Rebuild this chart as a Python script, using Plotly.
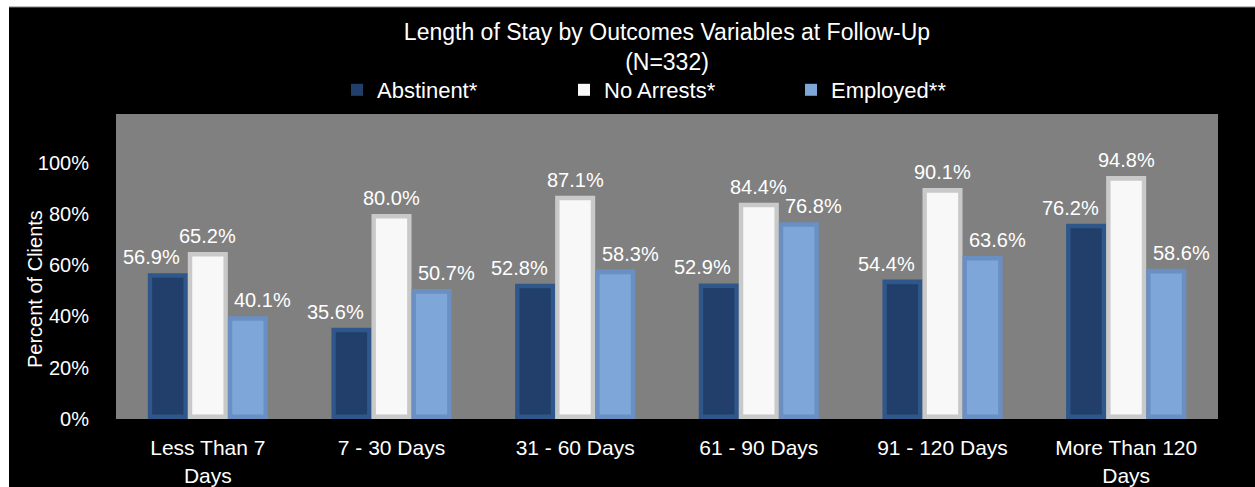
import plotly.graph_objects as go

# Length-of-stay groups and outcome rates at follow-up (percent of clients)
categories = ["Less Than 7<br>Days", "7 - 30 Days", "31 - 60 Days",
              "61 - 90 Days", "91 - 120 Days", "More Than 120<br>Days"]
abstinent = [56.9, 35.6, 52.8, 52.9, 54.4, 76.2]
no_arrests = [65.2, 80.0, 87.1, 84.4, 90.1, 94.8]
employed = [40.1, 50.7, 58.3, 76.8, 63.6, 58.6]

series_names = ["Abstinent*", "No Arrests*", "Employed**"]
face_colors = ["#213F6A", "#F8F8F8", "#7EA6D9"]
edge_colors = ["#2F5789", "#C9C9C9", "#6A8FC2"]
label_shift = [-16, 0, 15]  # px nudge of value labels around each bar

FONT = "Liberation Sans, Arial, sans-serif"
W, H = 1255, 487
ML, MR, MT, MB = 116, 37, 114, 68

bar_w = 0.218
bar_off = [-0.327, -0.109, 0.109]
bevel_x = 0.024
bevel_y = 0.018

fig = go.Figure()
all_series = [abstinent, no_arrests, employed]

# outer bevel rim
for vals, name, edge, off in zip(all_series, series_names, edge_colors, bar_off):
    fig.add_trace(go.Bar(
        x=categories, y=[v / 100 for v in vals], name=name,
        width=bar_w, offset=off, marker=dict(color=edge, line=dict(width=0)),
        showlegend=False, hoverinfo="skip", legendgroup=name,
    ))

# bar faces
for vals, name, face, off in zip(all_series, series_names, face_colors, bar_off):
    fig.add_trace(go.Bar(
        x=categories, y=[v / 100 - 2 * bevel_y for v in vals],
        base=bevel_y, name=name, legendgroup=name,
        width=bar_w - 2 * bevel_x, offset=off + bevel_x,
        marker=dict(color=face, line=dict(width=0)),
        customdata=vals, hovertemplate="%{customdata:.1f}%<extra>" + name + "</extra>",
    ))

# value labels
px_per_cat = (W - ML - MR) / len(categories)
for vals, off, shift in zip(all_series, bar_off, label_shift):
    for cat, v in zip(categories, vals):
        fig.add_annotation(
            x=cat, y=v / 100, xref="x", yref="y",
            text=f"{v:.1f}%", showarrow=False,
            xshift=(off + bar_w / 2) * px_per_cat + shift,
            yanchor="bottom", yshift=3,
            font=dict(family=FONT, size=20, color="white"),
        )

pw = W - ML - MR
ph = H - MT - MB

# y-axis title
fig.add_annotation(
    text="Percent of Clients", textangle=-90, showarrow=False,
    xref="paper", yref="paper", x=0, y=(H - MB - 289) / ph,
    xshift=-81, xanchor="center", yanchor="middle",
    font=dict(family=FONT, size=20, color="white"),
)

# dark chart panel with a thin white frame on the top and left
fig.add_shape(type="rect", xref="paper", yref="paper", layer="below",
              x0=(9 - ML) / pw, x1=(W - ML + 10) / pw,
              y0=-(MB + 10) / ph, y1=(H - MB - 7) / ph,
              fillcolor="black", line=dict(width=0))
fig.add_shape(type="line", xref="paper", yref="paper", layer="below",
              x0=(9 - ML) / pw, x1=(W - ML + 10) / pw,
              y0=(H - MB - 7) / ph, y1=(H - MB - 7) / ph,
              line=dict(color="#7F7F7F", width=1))
fig.add_shape(type="rect", xref="paper", yref="paper", layer="below",
              x0=0, x1=1, y0=0, y1=1, fillcolor="#808080", line=dict(width=0))

fig.update_layout(
    width=W, height=H,
    margin=dict(l=ML, r=MR, t=MT, b=MB, autoexpand=False),
    paper_bgcolor="white", plot_bgcolor="#808080",
    barmode="overlay",
    font=dict(family=FONT, color="white"),
    title=dict(
        text="Length of Stay by Outcomes Variables at Follow-Up<br>(N=332)",
        x=0.5, xref="paper", xanchor="center",
        y=1 - 40 / H, yref="container", yanchor="top",
        font=dict(family=FONT, size=23, color="white"),
    ),
    legend=dict(
        orientation="h", xref="container", yref="container",
        x=337 / W, y=1 - 90 / H, xanchor="left", yanchor="middle",
        font=dict(family=FONT, size=22, color="white"),
        bgcolor="rgba(0,0,0,0)", entrywidth=182, entrywidthmode="pixels",
        traceorder="normal",
    ),
    xaxis=dict(
        showgrid=False, zeroline=False, showline=False, automargin=False,
        ticks="outside", ticklen=10, tickcolor="rgba(0,0,0,0)",
        tickfont=dict(family=FONT, size=21, color="white"),
    ),
    yaxis=dict(
        range=[0, 1.19], tickvals=[0, 0.2, 0.4, 0.6, 0.8, 1.0],
        tickformat=".0%", showgrid=False, zeroline=False, showline=False,
        automargin=False,
        ticks="outside", ticklen=22, tickcolor="rgba(0,0,0,0)",
        tickfont=dict(family=FONT, size=20, color="white"),
    ),
)

fig.write_html("out.html")
